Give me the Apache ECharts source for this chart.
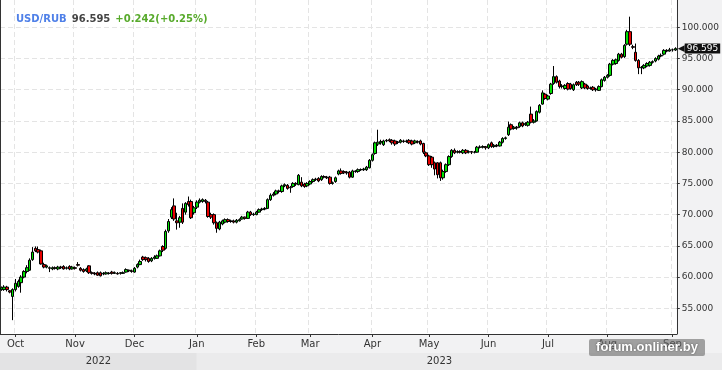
<!DOCTYPE html>
<html><head><meta charset="utf-8">
<script src="https://cdn.jsdelivr.net/npm/echarts@6/dist/echarts.min.js"></script>
<style>html,body{margin:0;padding:0;background:#f2f2f3}#c{width:722px;height:370px}</style>
</head><body><div id="c"></div>
<script>
// ---------- DATA ----------
const quoteName = 'USD/RUB';
const quoteChange = '+0.242';
const quoteChangePct = '(+0.25%)';

// exchange trading days
const dates = [
'2022-09-26','2022-09-27','2022-09-28','2022-09-29','2022-09-30',
'2022-10-03','2022-10-04','2022-10-05','2022-10-06','2022-10-07','2022-10-10','2022-10-11','2022-10-12','2022-10-13','2022-10-14','2022-10-17','2022-10-18','2022-10-19','2022-10-20','2022-10-21','2022-10-24','2022-10-25','2022-10-26','2022-10-27','2022-10-28','2022-10-31',
'2022-11-01','2022-11-02','2022-11-03','2022-11-07','2022-11-08','2022-11-09','2022-11-10','2022-11-11','2022-11-14','2022-11-15','2022-11-16','2022-11-17','2022-11-18','2022-11-21','2022-11-22','2022-11-23','2022-11-24','2022-11-25','2022-11-28','2022-11-29','2022-11-30',
'2022-12-01','2022-12-02','2022-12-05','2022-12-06','2022-12-07','2022-12-08','2022-12-09','2022-12-12','2022-12-13','2022-12-14','2022-12-15','2022-12-16','2022-12-19','2022-12-20','2022-12-21','2022-12-22','2022-12-23','2022-12-26','2022-12-27','2022-12-28','2022-12-29','2022-12-30',
'2023-01-03','2023-01-04','2023-01-05','2023-01-06','2023-01-09','2023-01-10','2023-01-11','2023-01-12','2023-01-13','2023-01-16','2023-01-17','2023-01-18','2023-01-19','2023-01-20','2023-01-23','2023-01-24','2023-01-25','2023-01-26','2023-01-27','2023-01-30','2023-01-31',
'2023-02-01','2023-02-02','2023-02-03','2023-02-06','2023-02-07','2023-02-08','2023-02-09','2023-02-10','2023-02-13','2023-02-14','2023-02-15','2023-02-16','2023-02-17','2023-02-20','2023-02-21','2023-02-22','2023-02-24','2023-02-27','2023-02-28',
'2023-03-01','2023-03-02','2023-03-03','2023-03-06','2023-03-07','2023-03-09','2023-03-10','2023-03-13','2023-03-14','2023-03-15','2023-03-16','2023-03-17','2023-03-20','2023-03-21','2023-03-22','2023-03-23','2023-03-24','2023-03-27','2023-03-28','2023-03-29','2023-03-30','2023-03-31',
'2023-04-03','2023-04-04','2023-04-05','2023-04-06','2023-04-07','2023-04-10','2023-04-11','2023-04-12','2023-04-13','2023-04-14','2023-04-17','2023-04-18','2023-04-19','2023-04-20','2023-04-21','2023-04-24','2023-04-25','2023-04-26','2023-04-27','2023-04-28',
'2023-05-02','2023-05-03','2023-05-04','2023-05-05','2023-05-08','2023-05-10','2023-05-11','2023-05-12','2023-05-15','2023-05-16','2023-05-17','2023-05-18','2023-05-19','2023-05-22','2023-05-23','2023-05-24','2023-05-25','2023-05-26','2023-05-29','2023-05-30','2023-05-31',
'2023-06-01','2023-06-02','2023-06-05','2023-06-06','2023-06-07','2023-06-08','2023-06-09','2023-06-13','2023-06-14','2023-06-15','2023-06-16','2023-06-19','2023-06-20','2023-06-21','2023-06-22','2023-06-23','2023-06-26','2023-06-27','2023-06-28','2023-06-29','2023-06-30',
'2023-07-03','2023-07-04','2023-07-05','2023-07-06','2023-07-07','2023-07-10','2023-07-11','2023-07-12','2023-07-13','2023-07-14','2023-07-17','2023-07-18','2023-07-19','2023-07-20','2023-07-21','2023-07-24','2023-07-25','2023-07-26','2023-07-27','2023-07-28','2023-07-31',
'2023-08-01','2023-08-02','2023-08-03','2023-08-04','2023-08-07','2023-08-08','2023-08-09','2023-08-10','2023-08-11','2023-08-14','2023-08-15','2023-08-16','2023-08-17','2023-08-18','2023-08-21','2023-08-22','2023-08-23','2023-08-24','2023-08-25','2023-08-28','2023-08-29','2023-08-30','2023-08-31',
'2023-09-01','2023-09-04'
];

const open = [
58.0,58.0,58.4,57.8,56.9, 58.0,58.5,59.1,60.0,60.9, 61.1,62.8,64.6,64.4,64.2, 62.0,61.6,
61.4,61.3, 61.5,61.3,61.6,61.7,61.4,61.7, 61.3,61.5,62.0,61.4, 61.2,61.0,61.8,60.7,60.6, 60.7,60.7,60.5,60.5,60.6, 60.8,60.6,60.6,60.6,60.6, 60.8,61.1,61.0, 60.8,61.6, 62.0,63.2,
63.1,63.0, 62.6,63.0,63.0,63.4,64.9, 64.6,67.4,69.6,71.4,69.0, 68.8,71.0,70.4,72.1,72.1, 70.3,71.2,72.0,72.1,72.3, 72.0,70.0,70.0,68.7,67.7, 68.5,68.8,69.2,68.9,69.0, 68.8,69.0,
69.3,69.6, 69.4,70.4, 70.0,70.0,70.4, 70.8,70.9,71.0,72.4,73.1, 73.3,73.8,73.7,74.6,74.7, 74.3,74.5,75.0,74.8,75.2, 74.9,74.6, 74.9,75.3,75.6, 75.8,75.6,76.1,76.0,76.0, 75.0,75.3,
76.5,77.0, 76.9,76.8,76.8,76.0,77.0, 76.9,77.2,77.2,77.2,77.5, 78.7,79.8,81.3,81.5,81.2, 81.8,82.0,81.9,81.8,81.6, 81.6,81.8,81.7,81.9,81.8, 81.5,81.7,81.8,81.4,79.9, 79.4,79.2,
78.3,78.3, 78.3,75.9,76.9,78.0,79.3, 80.3,80.0,80.1,79.9,80.3, 80.0,80.1,80.0,80.0,80.8, 80.8,80.9,80.7, 81.5,80.9, 81.1,81.0,81.6,82.2,82.8, 84.4,83.8,84.0,84.1,84.7, 84.4,84.3,
86.1,84.8, 85.0,86.4,87.7,89.3,88.5, 89.4,91.0,92.1,91.4,90.5, 90.2,91.0,90.9,90.0,91.2, 91.2,90.3,90.9,90.6,90.2, 90.4,90.0,89.9,90.5,91.5, 92.0, 92.3,94.1,94.2,94.7, 95.7,95.3,
97.3,99.3, 96.9,96.0,94.7,93.5,93.5, 93.8,93.9,94.4,94.6,94.9, 95.4,95.7,96.3,96.2, 96.4,96.35
];

const close = [
58.3,58.4,58.0,57.6,58.0, 59.0,59.3,60.0,60.9,61.5, 62.7,64.0,64.2,64.0,62.1, 61.6,61.8,
61.5,61.5, 61.4,61.6,61.5,61.3,61.5,61.3, 61.6,61.4,61.9,61.1, 60.9,61.3,60.7,60.6,60.5, 60.3,60.2,60.6,60.7,60.6, 60.6,60.7,60.5,60.7,60.7, 61.2,61.0,60.9, 61.4,62.0, 62.5,62.8,
62.8,62.5, 63.0,63.2,63.4,64.2,64.3, 67.3,68.9,70.8,69.3,68.7, 69.5,68.8,71.8,71.6,69.5, 71.1,72.0,72.3,72.4,72.1, 69.7,69.6,68.7,67.8,68.8, 69.0,69.2,68.9,69.0,68.8, 69.1,69.2,
69.6,69.4, 70.4,70.0, 70.1,70.4,70.8, 70.9,71.0,72.4,73.1,73.3, 73.8,73.7,74.6,74.8,74.2, 74.4,75.0,74.9,76.3,74.6, 74.5,75.0, 75.3,75.6,75.7, 75.4,76.1,76.0,75.9,75.0, 75.1,75.9,
77.0,76.6, 76.7,76.7,76.0,77.0,76.9, 77.2,77.2,77.3,77.6,78.7, 79.6,81.5,81.6,81.7,81.8, 81.9,81.8,81.5,81.3,81.6, 81.9,81.7,81.8,81.5,81.3, 81.8,81.6,81.3,80.0,79.4, 78.0,78.0,
77.3,76.4, 75.9,76.9,78.0,79.3,80.3, 79.9,80.1,80.0,80.3,79.9, 80.1,80.0,80.0,80.8,80.8, 80.9,80.7,81.2, 80.9,81.1, 81.0,81.6,82.2,82.3,84.0, 83.7,84.0,83.9,84.7,84.2, 84.6,84.8,
84.8,85.0, 86.5,87.5,89.5,88.6,89.0, 90.9,92.1,91.2,90.5,90.6, 90.7,90.1,90.2,90.8,90.8, 90.9,91.3,90.3,90.2,90.3, 90.0,90.1,90.5,91.6,92.0, 92.3, 94.1,94.7,94.8,95.7, 95.2,97.1,
99.3,97.3, 96.8,94.7,93.5,93.6,93.9, 94.2,94.4,94.5,95.0,95.4, 95.5,96.3,96.2,96.4, 96.4,96.595
];

const low = [
57.8,57.8,57.7,57.4,53.1, 57.7,58.3,57.5,59.8,60.6, 61.0,62.6,64.0,63.8,62.0, 61.4,61.4,
60.8,61.1, 61.2,61.1,61.3,61.2,61.2,61.1, 61.2,61.2,61.7,60.9, 60.7,60.8,60.5,60.4,60.3, 60.2,60.1,60.3,60.4,60.4, 60.4,60.5,60.4,60.4,60.5, 60.7,60.8,60.7, 60.7,61.4, 61.9,62.6,
62.5,62.3, 62.4,62.8,62.9,63.3,64.0, 64.4,67.1,69.3,69.0,67.6, 67.9,68.5,70.0,71.3,69.3, 70.0,70.9,71.8,71.9,71.8, 69.5,69.3,68.4,67.1,67.5, 68.3,68.6,68.7,68.7,68.6, 68.6,68.9,
69.2,69.2, 69.3,69.8, 69.8,69.9,70.3, 70.6,70.7,70.9,72.2,72.9, 73.1,73.4,73.5,74.4,74.0, 73.5,74.3,74.6,74.7,74.4, 74.3,74.4, 74.7,75.1,75.4, 75.2,75.4,75.8,75.7,74.8, 74.8,75.1,
76.3,76.4, 76.5,76.4,75.8,75.9,76.7, 76.7,77.0,77.0,77.0,77.4, 78.5,79.6,81.0,81.2,81.0, 81.6,81.6,81.2,81.0,81.3, 81.4,81.5,81.5,81.3,81.1, 81.3,81.4,81.1,79.7,79.2, 77.8,77.5,
76.3,75.8, 75.4,75.6,76.7,77.8,79.1, 79.7,79.8,79.8,79.7,79.7, 79.8,79.7,79.8,79.9,80.6, 80.6,80.4,80.5, 80.7,80.7, 80.8,80.9,81.4,82.0,82.6, 83.5,83.6,83.6,83.9,84.0, 84.2,84.1,
84.6,84.6, 84.9,86.2,87.6,88.4,88.3, 89.2,90.8,91.0,90.2,90.2, 90.0,89.9,90.0,89.8,90.6, 90.6,90.1,90.1,90.0,90.0, 89.8,89.7,89.8,90.4,91.3, 91.8, 92.1,93.9,94.0,94.5, 95.0,95.1,
97.1,97.0, 96.5,94.5,92.5,92.5,93.3, 93.6,93.7,94.2,94.4,94.7, 95.2,95.5,96.0,96.1, 96.1,96.2
];

const high = [
58.5,58.7,58.6,57.9,58.2, 59.7,59.6,60.3,61.1,61.9, 63.0,64.8,64.9,64.9,64.4, 62.3,62.0,
61.7,61.7, 61.7,61.8,61.8,61.9,61.7,61.9, 61.8,61.7,62.4,61.6, 61.4,61.5,61.9,60.9,60.8, 60.9,60.9,60.8,60.9,60.8, 61.0,60.9,60.8,60.8,60.9, 61.4,61.2,61.2, 61.6,62.2, 62.8,63.4,
63.3,63.2, 63.2,63.5,63.6,64.4,65.1, 67.6,69.3,71.2,72.6,70.3, 69.8,71.8,72.0,72.9,72.4, 71.4,72.3,72.6,72.6,72.5, 72.2,70.3,70.2,68.9,69.0, 69.2,69.4,69.4,69.2,69.2, 69.3,69.4,
69.8,69.7, 70.6,70.6, 70.3,70.6,71.0, 71.1,71.2,72.6,73.4,73.6, 74.0,74.0,74.8,75.0,74.9, 74.6,75.2,75.2,76.5,76.0, 75.1,75.2, 75.5,75.8,75.9, 76.0,76.3,76.3,76.2,76.2, 75.3,76.1,
77.2,77.4, 77.1,77.0,77.0,77.2,77.1, 77.4,77.4,77.5,77.8,78.9, 79.8,81.7,83.6,82.0,82.0, 82.1,82.2,82.1,82.0,81.8, 82.1,82.0,82.0,82.1,82.0, 82.0,81.9,82.0,81.5,80.1, 79.6,79.4,
78.5,78.4, 78.5,77.2,78.2,79.5,80.5, 80.6,80.3,80.3,80.5,80.5, 80.3,80.2,80.2,81.0,81.1, 81.1,81.0,81.4, 81.7,81.3, 81.3,81.8,82.4,82.5,84.9, 84.6,84.2,84.2,84.9,84.9, 84.8,85.0,
87.3,85.3, 86.7,87.7,89.9,89.5,89.2, 91.1,93.8,92.3,91.6,90.9, 90.9,91.2,91.1,91.0,91.4, 91.4,91.5,91.1,90.8,90.5, 90.6,90.3,90.7,91.8,92.2, 92.5, 94.3,94.9,95.0,95.9, 95.9,97.3,
99.6,101.7, 97.2,97.4,94.9,93.8,94.1, 94.4,94.6,94.7,95.2,95.6, 95.8,96.5,96.5,96.7, 96.6,96.8
];

const yTicks = [55, 60, 65, 70, 75, 80, 85, 90, 95, 100];
const monthNames = ['Jan','Feb','Mar','Apr','May','Jun','Jul','Aug','Sep','Oct','Nov','Dec'];

// ---------- CHART ----------
const FONT = 'DejaVu Sans';
const lastPrice = close[close.length - 1];
const ohlc = dates.map((d, i) => [open[i], close[i], low[i], high[i]]);
const isMonthStart = (i) => i > 0 && dates[i].slice(5, 7) !== dates[i - 1].slice(5, 7);
const Y_MIN = 50.885, Y_MAX = 104.372;
const dash = { color: '#e4e4e4', width: 1, type: [5, 3] };

const chart = echarts.init(document.getElementById('c'), null, { renderer: 'canvas', width: 722, height: 370 });

chart.setOption({
  animation: false,
  backgroundColor: '#f2f2f3',
  title: {
    left: 11, top: 5,
    text: '{a|' + quoteName + '} {b|' + lastPrice.toFixed(3) + '} {c|' + quoteChange + quoteChangePct + '}',
    textStyle: {
      rich: {
        a: { color: '#4f80e8', fontWeight: 'bold', fontSize: 10, fontFamily: FONT },
        b: { color: '#444', fontWeight: 'bold', fontSize: 10, fontFamily: FONT },
        c: { color: '#58aa2c', fontWeight: 'bold', fontSize: 10, fontFamily: FONT }
      }
    }
  },
  grid: { left: 0, right: 40, top: 0, bottom: 36, show: true, backgroundColor: '#ffffff', borderWidth: 0 },
  xAxis: {
    type: 'category', data: dates, boundaryGap: true,
    axisLine: { show: true, lineStyle: { color: '#333', width: 1 } },
    axisTick: { show: true, alignWithLabel: true, length: 3, interval: (i) => isMonthStart(i), lineStyle: { color: '#333' } },
    axisLabel: {
      interval: (i) => isMonthStart(i),
      formatter: (v) => monthNames[+v.slice(5, 7) - 1],
      color: '#333', fontFamily: FONT, fontSize: 10, margin: 5
    },
    splitLine: { show: true, interval: (i) => isMonthStart(i), lineStyle: dash }
  },
  yAxis: [{
    type: 'value', position: 'right', min: Y_MIN, max: Y_MAX,
    axisLine: { show: true, lineStyle: { color: '#333', width: 1 } },
    axisTick: { show: true, length: 3, customValues: yTicks, lineStyle: { color: '#333' } },
    axisLabel: { customValues: yTicks, formatter: (v) => v.toFixed(3), color: '#333', fontFamily: FONT, fontSize: 9, margin: 5 },
    splitLine: { show: true, lineStyle: dash }
  }, {
    type: 'value', position: 'left', min: Y_MIN, max: Y_MAX,
    axisLine: { show: true, lineStyle: { color: '#333', width: 1 } },
    axisTick: { show: false }, axisLabel: { show: false }, splitLine: { show: false }
  }],
  series: [{
    type: 'candlestick',
    data: ohlc,
    barWidth: 3,
    itemStyle: {
      color: '#00e000', color0: '#e80000',
      borderColor: '#000', borderColor0: '#000', borderColorDoji: '#000', borderWidth: 1
    },
    markLine: {
      silent: true, symbol: ['none', 'none'],
      lineStyle: { width: 0, color: '#111' },
      data: [{ yAxis: lastPrice }],
      label: {
        show: true, position: 'end', distance: 1,
        formatter: '{a|◀}{b|' + lastPrice.toFixed(3) + '}',
        rich: {
          a: { color: '#111', fontSize: 9, fontFamily: FONT },
          b: { color: '#fff', backgroundColor: '#111', fontSize: 9, fontFamily: FONT, padding: [1, 2, 0, 2] }
        }
      }
    }
  }]
});

// year strip below the month labels, positioned from the category axis
const xJan = chart.convertToPixel({ xAxisIndex: 0 }, dates.find((d) => d.startsWith('2023')));
const plotRight = 722 - 40;
chart.setOption({
  graphic: [
    { type: 'rect', shape: { x: 0, y: 353, width: xJan, height: 17 }, style: { fill: '#e3e3e4' }, silent: true },
    { type: 'rect', shape: { x: xJan, y: 353, width: 722 - xJan, height: 17 }, style: { fill: '#ebebec' }, silent: true },
    { type: 'text', style: { text: dates[0].slice(0, 4), x: xJan / 2, y: 361.5, align: 'center', verticalAlign: 'middle', font: '10px "DejaVu Sans"', fill: '#333' }, silent: true },
    { type: 'text', style: { text: dates[dates.length - 1].slice(0, 4), x: (xJan + plotRight) / 2, y: 361.5, align: 'center', verticalAlign: 'middle', font: '10px "DejaVu Sans"', fill: '#333' }, silent: true },
    { type: 'rect', shape: { x: 589, y: 339, width: 116, height: 17, r: 2 }, style: { fill: 'rgba(105,105,105,0.6)' }, silent: true, z: 100 },
    { type: 'text', style: { text: 'forum.onliner.by', x: 647, y: 347.5, align: 'center', verticalAlign: 'middle', font: 'bold 13px "Liberation Sans"', fill: '#fff', textShadowColor: 'rgba(0,0,0,0.5)', textShadowBlur: 2 }, silent: true, z: 101 }
  ]
});
</script>
</body></html>
